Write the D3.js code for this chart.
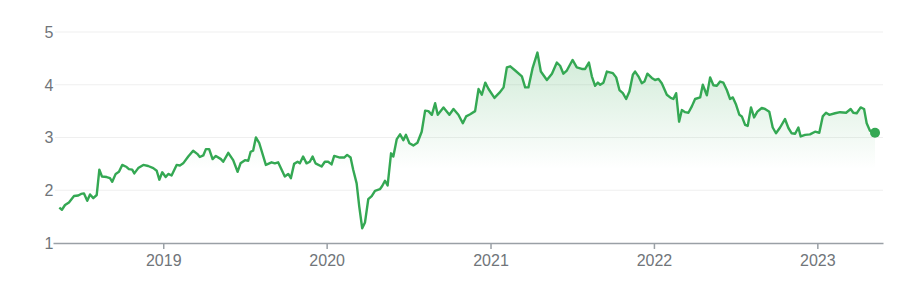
<!DOCTYPE html>
<html><head><meta charset="utf-8">
<script src="https://cdn.jsdelivr.net/npm/d3@7"></script>
<style>body{margin:0;background:#fff}svg{display:block}</style>
</head><body><svg id="c" width="904" height="294"></svg>
<script>
const yTicks = [1, 2, 3, 4, 5];
const xTickYears = [2019, 2020, 2021, 2022, 2023];
// time in decimal years
const times = [2018.364,2018.380,2018.399,2018.423,2018.454,2018.480,2018.497,2018.515,2018.535,2018.552,2018.572,2018.593,2018.609,2018.625,2018.654,2018.674,2018.688,2018.709,2018.729,2018.749,2018.776,2018.790,2018.810,2018.823,2018.847,2018.878,2018.908,2018.939,2018.960,2018.976,2018.994,2019.015,2019.031,2019.051,2019.082,2019.102,2019.122,2019.153,2019.183,2019.208,2019.224,2019.245,2019.261,2019.281,2019.302,2019.322,2019.353,2019.367,2019.398,2019.428,2019.455,2019.473,2019.500,2019.520,2019.535,2019.550,2019.567,2019.587,2019.628,2019.663,2019.683,2019.703,2019.744,2019.765,2019.781,2019.801,2019.822,2019.836,2019.856,2019.877,2019.897,2019.914,2019.932,2019.969,2019.989,2020.009,2020.030,2020.046,2020.081,2020.107,2020.125,2020.146,2020.162,2020.183,2020.199,2020.217,2020.234,2020.254,2020.275,2020.295,2020.325,2020.339,2020.356,2020.372,2020.393,2020.407,2020.428,2020.448,2020.468,2020.484,2020.505,2020.529,2020.554,2020.580,2020.601,2020.621,2020.642,2020.662,2020.678,2020.713,2020.749,2020.774,2020.804,2020.831,2020.851,2020.876,2020.906,2020.927,2020.947,2020.968,2020.988,2021.024,2021.055,2021.080,2021.100,2021.121,2021.151,2021.192,2021.212,2021.232,2021.257,2021.287,2021.308,2021.345,2021.376,2021.406,2021.426,2021.446,2021.467,2021.502,2021.528,2021.559,2021.579,2021.602,2021.620,2021.640,2021.657,2021.671,2021.691,2021.712,2021.749,2021.769,2021.789,2021.810,2021.830,2021.850,2021.871,2021.885,2021.905,2021.926,2021.942,2021.960,2021.987,2022.007,2022.028,2022.048,2022.079,2022.103,2022.119,2022.136,2022.154,2022.171,2022.191,2022.211,2022.232,2022.252,2022.283,2022.299,2022.324,2022.344,2022.364,2022.385,2022.405,2022.425,2022.446,2022.466,2022.483,2022.503,2022.523,2022.538,2022.558,2022.574,2022.594,2022.613,2022.633,2022.660,2022.680,2022.706,2022.727,2022.747,2022.772,2022.802,2022.823,2022.843,2022.864,2022.884,2022.898,2022.925,2022.955,2022.986,2023.012,2023.033,2023.053,2023.073,2023.108,2023.139,2023.176,2023.204,2023.220,2023.241,2023.265,2023.286,2023.302,2023.322,2023.353];
const prices = [1.67,1.63,1.72,1.77,1.89,1.90,1.93,1.94,1.80,1.92,1.85,1.91,2.39,2.26,2.25,2.23,2.16,2.31,2.35,2.48,2.44,2.40,2.39,2.32,2.42,2.48,2.46,2.42,2.37,2.20,2.34,2.25,2.31,2.28,2.48,2.47,2.51,2.64,2.75,2.69,2.63,2.66,2.78,2.78,2.59,2.65,2.59,2.54,2.71,2.57,2.35,2.51,2.57,2.56,2.73,2.75,3.00,2.90,2.48,2.53,2.51,2.53,2.26,2.31,2.23,2.50,2.54,2.51,2.64,2.51,2.54,2.64,2.51,2.45,2.54,2.54,2.49,2.65,2.62,2.62,2.67,2.62,2.39,2.13,1.69,1.28,1.39,1.83,1.89,1.99,2.02,2.08,2.18,2.09,2.70,2.64,2.97,3.06,2.95,3.05,2.89,2.85,2.90,3.11,3.51,3.50,3.43,3.65,3.43,3.57,3.43,3.54,3.43,3.27,3.40,3.44,3.50,3.92,3.81,4.04,3.92,3.75,3.85,3.95,4.33,4.35,4.27,4.16,3.95,3.95,4.31,4.61,4.25,4.09,4.21,4.42,4.36,4.21,4.27,4.47,4.33,4.30,4.30,4.42,4.16,3.98,4.04,4.00,4.04,4.25,4.22,4.14,3.90,3.84,3.73,3.87,4.19,4.25,4.16,4.03,4.06,4.21,4.13,4.09,4.11,4.03,3.81,3.75,3.73,3.84,3.30,3.52,3.48,3.47,3.59,3.73,3.76,4.00,3.80,4.14,3.99,3.98,4.06,4.04,3.90,3.73,3.76,3.62,3.43,3.40,3.24,3.22,3.57,3.38,3.49,3.56,3.54,3.49,3.19,3.08,3.19,3.35,3.18,3.08,3.07,3.19,3.02,3.05,3.06,3.11,3.09,3.40,3.47,3.43,3.46,3.48,3.47,3.54,3.47,3.46,3.57,3.54,3.27,3.13,3.09];

function toDate(t){const yr=Math.floor(t);const a=Date.UTC(yr,0,1),b=Date.UTC(yr+1,0,1);return new Date(a+(t-yr)*(b-a));}
const data = times.map((t,i)=>({d:toDate(t),v:prices[i]}));

const svg = d3.select('#c');
const mLeft = 53, mRight = 883, mTop = 32, mBottom = 243;
const x = d3.scaleUtc()
  .domain([toDate(2019 - (163.3-mLeft)/163.5), toDate(2019 + (mRight-163.3)/163.5)])
  .range([mLeft, mRight]);
const y = d3.scaleLinear().domain([1,5]).range([mBottom, mTop]);
const font = 'Arial, "Liberation Sans", sans-serif';

// grid
svg.append('g').selectAll('line').data(yTicks.filter(d=>d>1)).join('line')
  .attr('x1', mLeft+2).attr('x2', mRight).attr('y1', d=>y(d)).attr('y2', d=>y(d))
  .attr('stroke', '#efefef').attr('stroke-width', 1);

// y labels
svg.append('g').selectAll('text').data(yTicks).join('text')
  .attr('x', 53.5).attr('y', d=>y(d)).attr('dy','0.36em').attr('text-anchor','end')
  .attr('font-family', font).attr('font-size', 16).attr('fill','#70757a')
  .text(d=>d);

// gradient
const defs = svg.append('defs');
const g = defs.append('linearGradient').attr('id','gr').attr('gradientUnits','userSpaceOnUse')
  .attr('x1',0).attr('x2',0).attr('y1', y(4.7)).attr('y2', y(2.4));
g.append('stop').attr('offset','0%').attr('stop-color','#34a853').attr('stop-opacity',0.24);
g.append('stop').attr('offset','100%').attr('stop-color','#34a853').attr('stop-opacity',0);

svg.append('path').datum(data)
  .attr('d', d3.area().x(d=>x(d.d)).y0(y(2.4)).y1(d=>y(d.v)))
  .attr('fill','url(#gr)');

// x axis
const xAxis = d3.axisBottom(x).tickValues(xTickYears.map(yy=>new Date(Date.UTC(yy,0,1))))
  .tickFormat(d3.utcFormat('%Y')).tickSize(6).tickSizeOuter(0).tickPadding(6);
const ax = svg.append('g').attr('transform',`translate(0,${mBottom})`).call(xAxis);
ax.select('.domain').attr('stroke','#9aa0a6').attr('stroke-width',1.5);
ax.selectAll('.tick line').attr('stroke','#9aa0a6').attr('stroke-width',1.5);
ax.selectAll('.tick text').attr('font-family', font).attr('font-size',16).attr('fill','#70757a');

// line
svg.append('path').datum(data)
  .attr('d', d3.line().x(d=>x(d.d)).y(d=>y(d.v)))
  .attr('fill','none').attr('stroke','#34a853').attr('stroke-width',2.4).attr('stroke-linejoin','round');

const last = data[data.length-1];
svg.append('circle').attr('cx', x(last.d)).attr('cy', y(last.v)).attr('r', 5).attr('fill','#34a853');
</script></body></html>
